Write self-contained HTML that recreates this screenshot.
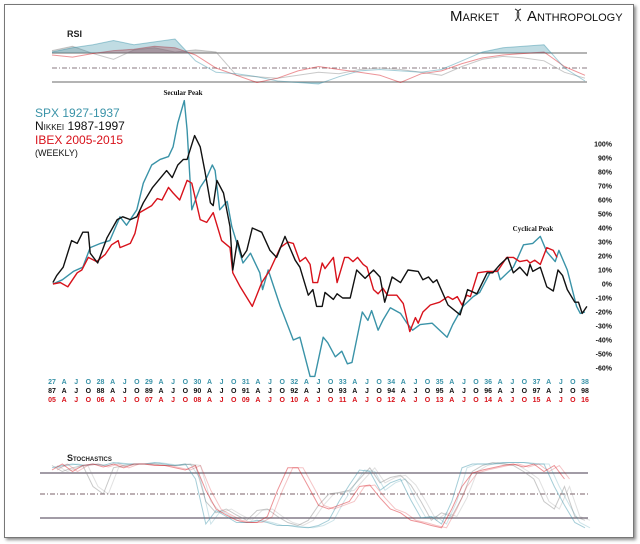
<!DOCTYPE html>
<html><head><meta charset="utf-8">
<style>
html,body{margin:0;padding:0;background:#fff;}
body{width:640px;height:544px;position:relative;overflow:hidden;font-family:"Liberation Sans",sans-serif;}
#frame{position:absolute;left:4px;top:4px;width:628px;height:532px;border:1px solid #777;box-shadow:2px 2px 3px rgba(0,0,0,0.45);background:#fff;}
svg{position:absolute;left:0;top:0;}
</style></head>
<body>
<div id="frame"></div>
<svg id="chart" width="640" height="544" xmlns="http://www.w3.org/2000/svg">
  <text x="450" y="21" font-size="15" font-family="Liberation Sans, sans-serif" fill="#111" style="font-variant:small-caps">Market</text>
  <g stroke="#333" stroke-width="1" fill="none">
    <path d="M515 9 C523 13,515 17,521 21 M521 9 C513 13,521 17,515 21"/>
  </g>
  <text x="527" y="21" font-size="15" font-family="Liberation Sans, sans-serif" fill="#111" style="font-variant:small-caps">Anthropology</text>

  <text x="67" y="37" font-size="9" font-weight="bold" fill="#222">RSI</text>
  <text x="67" y="461" font-size="9" font-weight="bold" fill="#222" style="font-variant:small-caps">Stochastics</text>

  <text x="35" y="117" font-size="12" fill="#3a93a8">SPX 1927-1937</text>
  <text x="35" y="130" font-size="12" fill="#111" style="font-variant:small-caps">Nikkei 1987-1997</text>
  <text x="35" y="144" font-size="12" fill="#d8121b">IBEX 2005-2015</text>
  <text x="35" y="156" font-size="9" fill="#111">(WEEKLY)</text>

  <text x="183" y="95" font-size="7" font-weight="bold" fill="#111" text-anchor="middle" font-family="Liberation Serif, serif">Secular Peak</text>
  <text x="533" y="231" font-size="7" font-weight="bold" fill="#111" text-anchor="middle" font-family="Liberation Serif, serif">Cyclical Peak</text>
  <g id="layer"></g>
</svg>
<script>
const spxWeeks=[1,11,23,33,41,52,62,73,80,91,98,107,116,125,130,135,142,145,150,159,166,172,175,180,188,193,205,213,223,226,232,245,248,259,266,277,282,291,296,304,311,317,322,333,339,343,350,355,363,374,381,387,395,408,424,430,441,452,459,470,478,481,495,500,506,516,524,531,540,544,553,563,567,572];
const spxValues=[0,3,9,12,26,29,31,48,42,53,72,85,89,91,98,115,131,110,53,69,76,85,81,53,59,41,15,22,8,-4,10,-16,-21,-40,-38,-66,-66,-38,-42,-52,-48,-57,-56,-20,-26,-19,-33,-26,-17,-21,-28,-33,-29,-28,-38,-29,-16,-9,-6,8,10,3,12,19,28,29,34,23,16,24,10,-16,-21,-20];
const nikWeeks=[1,5,12,21,27,33,39,41,49,59,70,76,84,91,98,108,123,129,135,141,145,153,159,164,170,173,177,184,191,194,199,204,209,215,225,234,241,250,261,266,275,280,284,290,293,302,306,312,320,327,336,345,352,357,365,374,382,393,398,404,409,413,425,438,446,456,467,473,481,489,495,502,510,513,516,524,531,538,543,548,553,561,565,569,574];
const nikValues=[1,6,12,31,29,37,37,22,15,33,46,48,46,48,58,69,81,76,85,89,89,106,98,81,58,56,74,65,41,10,31,19,24,40,37,24,19,34,17,12,-8,-4,-16,-16,-6,-11,-7,-10,-10,10,4,10,5,-13,5,1,10,9,3,5,1,3,-15,-22,-4,-7,8,8,14,19,8,12,6,14,9,12,-2,-5,10,6,-4,-13,-13,-21,-16];
const ibexWeeks=[1,9,17,27,32,39,48,57,64,71,73,84,89,94,107,113,118,125,130,137,145,150,159,166,173,182,191,194,202,215,225,234,245,253,259,266,272,277,280,285,290,293,302,306,314,318,323,328,334,338,345,350,355,360,370,377,384,390,393,398,406,416,425,430,435,440,445,449,457,467,478,488,495,502,510,513,518,524,531,538,542];
const ibexValues=[0,1,-2,8,10,19,16,21,28,31,26,29,36,51,56,61,60,69,65,60,74,72,46,44,51,31,26,8,-2,-16,1,10,26,30,29,16,19,14,1,1,15,11,19,1,19,19,16,19,14,12,-4,-7,-3,-8,-8,-14,-34,-24,-28,-20,-15,-13,-9,-11,-9,-15,-8,-9,8,9,9,19,19,16,17,15,17,14,26,24,19];
const yTicks=[100,90,80,70,60,50,40,30,20,10,0,-10,-20,-30,-40,-50,-60];
const spxYears=["27","28","29","30","31","32","33","34","35","36","37","38"];
const nikYears=["87","88","89","90","91","92","93","94","95","96","97","98"];
const ibexYears=["05","06","07","08","09","10","11","12","13","14","15","16"];
const quarterLabels=["A","J","O"];
const rsiStep=22;
const rsiSpx=[72,78,82,88,82,86,90,60,44,42,38,32,30,28,38,46,48,46,44,48,60,72,78,80,82,50,32];
const rsiNik=[74,80,70,62,75,78,72,75,72,40,38,36,40,44,42,48,50,48,44,40,52,62,66,64,60,44,36];
const rsiIbex=[68,65,70,74,76,80,78,68,50,40,30,36,46,52,48,44,40,30,42,46,56,64,68,70,72,52,40];
const stoStep=11;
const stoSpx=[85,88,90,88,90,88,92,90,90,90,92,90,88,90,70,10,28,20,12,12,15,12,8,8,6,5,8,15,40,62,82,80,55,65,70,42,18,20,10,40,85,90,90,90,92,92,92,90,90,60,35,12,5];
const stoNik=[88,80,85,88,60,50,85,88,90,90,90,88,88,90,88,40,25,30,22,15,28,30,20,12,8,15,35,50,52,55,70,85,65,72,75,62,40,15,25,20,45,80,88,92,90,88,80,70,40,30,60,20,15];
const stoIbex=[82,90,80,88,90,86,90,85,90,90,88,88,85,82,88,55,30,22,15,12,12,20,55,85,85,60,35,30,35,40,60,62,45,30,25,15,12,8,5,30,60,78,82,85,88,90,86,90,80,88,70];

const X0=52, X1=585, WMAX=572;
const xs=w=>X0+(w/WMAX)*(X1-X0);
const ys=v=>284-v*1.4;
const rsiY=v=>68-(v-50)*0.725;
const stoY=v=>494-(v-50)*0.75;
const NS="http://www.w3.org/2000/svg";
const layer=document.getElementById('layer');
function mk(tag,attrs){const e=document.createElementNS(NS,tag);for(const k in attrs)e.setAttribute(k,attrs[k]);layer.appendChild(e);return e;}
const TEAL="#3a93a8",BLK="#111111",RED="#d8121b";

const defs=mk('defs',{});
defs.innerHTML='<clipPath id="rsiTop"><rect x="0" y="0" width="640" height="53"/></clipPath><clipPath id="rsiBot"><rect x="0" y="82" width="640" height="40"/></clipPath>';

let l;
l=mk('line',{x1:52,x2:587,y1:53,y2:53,stroke:'#888','stroke-width':1.2});

l=mk('line',{x1:52,x2:587,y1:68,y2:68,stroke:'#8a7a80','stroke-width':1,'stroke-dasharray':'5,2,1,2'});

l=mk('line',{x1:52,x2:587,y1:82,y2:82,stroke:'#888','stroke-width':1.2});


function rsiSeries(arr,col,name){
  const pts=arr.map((v,i)=>xs(i*rsiStep).toFixed(1)+','+rsiY(v).toFixed(1));
  const first=xs(0),last=xs((arr.length-1)*rsiStep);
  const a=mk('polygon',{points:first+',53 '+pts.join(' ')+' '+last+',53',fill:col,'fill-opacity':0.32,'clip-path':'url(#rsiTop)'});
  
  const b=mk('polygon',{points:first+',82 '+pts.join(' ')+' '+last+',82',fill:col,'fill-opacity':0.32,'clip-path':'url(#rsiBot)'});
  
  const p=mk('polyline',{points:pts.join(' '),fill:'none',stroke:col,'stroke-opacity':0.45,'stroke-width':1});
  
}
rsiSeries(rsiNik,'#888',"nikkei");
rsiSeries(rsiIbex,RED,"ibex");
rsiSeries(rsiSpx,TEAL,"spx");

l=mk('line',{x1:40,x2:588,y1:473,y2:473,stroke:'#6a6070','stroke-width':1.2});

l=mk('line',{x1:40,x2:588,y1:494,y2:494,stroke:'#7a6068','stroke-width':1,'stroke-dasharray':'5,2,1,2'});

l=mk('line',{x1:40,x2:588,y1:518,y2:518,stroke:'#6a6070','stroke-width':1.2});

function stoSeries(arr,col,name){
  const pts=arr.map((v,i)=>xs(i*stoStep).toFixed(1)+','+stoY(v).toFixed(1));
  const p=mk('polyline',{points:pts.join(' '),fill:'none',stroke:col,'stroke-opacity':0.45,'stroke-width':1});
  
  const pts2=arr.map((v,i)=>(xs(i*stoStep)+5).toFixed(1)+','+stoY(v).toFixed(1));
  const q=mk('polyline',{points:pts2.join(' '),fill:'none',stroke:col,'stroke-opacity':0.25,'stroke-width':1});
  
}
stoSeries(stoNik,'#888',"nikkei");
stoSeries(stoSpx,TEAL,"spx");
stoSeries(stoIbex,RED,"ibex");

function mainSeries(ws,vs,col,name){
  const pts=ws.map((w,i)=>xs(w).toFixed(1)+','+ys(vs[i]).toFixed(1));
  const p=mk('polyline',{points:pts.join(' '),fill:'none',stroke:col,'stroke-width':1.4,'stroke-linejoin':'round'});
  
}
mainSeries(spxWeeks,spxValues,TEAL,"spx");
mainSeries(ibexWeeks,ibexValues,RED,"ibex");
mainSeries(nikWeeks,nikValues,BLK,"nikkei");

yTicks.forEach(v=>{
  const t=mk('text',{x:612,y:(ys(v)+2.5).toFixed(1),'font-size':7,'font-weight':'bold','text-anchor':'end',fill:'#111'});
  t.textContent=v+'%';
  
});

function xRow(years,col,yy,name){
  years.forEach((yr,i)=>{
    const t=mk('text',{x:xs(i*52).toFixed(1),y:yy,'font-size':7,'font-weight':'bold','text-anchor':'middle',fill:col});
    t.textContent=yr;
    
    if(i<years.length-1){
      quarterLabels.forEach((q,k)=>{
        const u=mk('text',{x:xs(i*52+(k+1)*13).toFixed(1),y:yy,'font-size':7,'font-weight':'bold','text-anchor':'middle',fill:col});
        u.textContent=q;
        
      });
    }
  });
}
xRow(spxYears,TEAL,384,"spx");
xRow(nikYears,BLK,393,"nikkei");
xRow(ibexYears,RED,402,"ibex");
</script>
</body></html>
